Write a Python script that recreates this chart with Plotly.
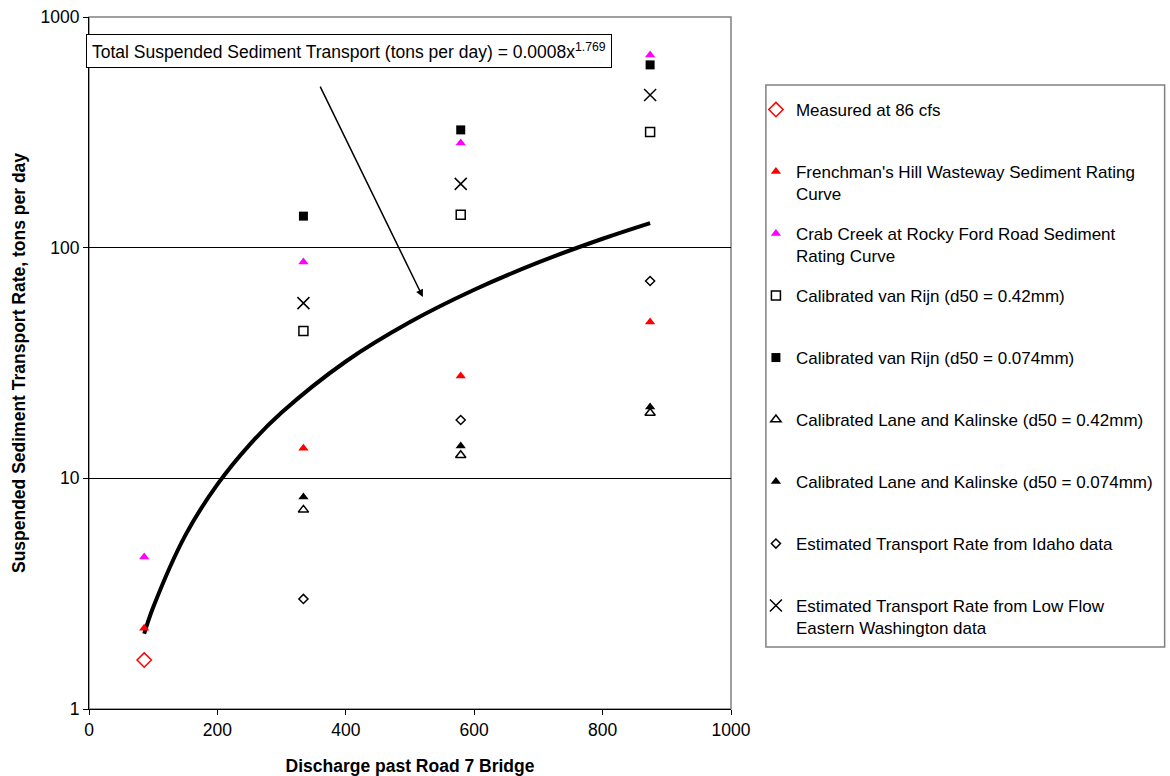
import plotly.graph_objects as go

# ---- data ----
q_measured = [86]
v_measured = [1.63]

q_main = [86, 334, 579, 874]
frenchman = [2.24, 13.5, 27.8, 47.6]
crab_creek = [4.56, 86.7, 284, 684]

q_cal = [334, 579, 874]
vr_042 = [43.5, 139, 317]
vr_0074 = [137, 324, 620]
lk_042 = [7.3, 12.6, 19.2]
lk_0074 = [8.3, 13.8, 20.4]
idaho = [3.0, 17.9, 71.7]
low_flow = [57.5, 189, 459]

# trend curve values
curve_q = [86, 100, 150, 200, 250, 300, 400, 500, 600, 700, 800, 874]
curve_v = [2.12, 2.76, 5.66, 9.41, 13.97, 19.28, 32.1, 47.6, 65.7, 86.3, 109.3, 127.8]

x_ticks = [0, 200, 400, 600, 800, 1000]
y_ticks = [1, 10, 100, 1000]

FONT = "Arial, Liberation Sans, sans-serif"
FS = 17.5
LFS = 17

fig = go.Figure()

fig.add_trace(go.Scatter(x=curve_q, y=curve_v, mode="lines", line=dict(color="black", width=4, shape="spline"),
                         showlegend=False, hoverinfo="skip"))

def add(name, x, y, symbol, color, size, lw=1.5):
    fig.add_trace(go.Scatter(
        x=x, y=y, mode="markers", name=name, legendgroup=name,
        marker=dict(symbol=symbol, color=color, size=size, line=dict(color=color, width=lw)),
    ))

add("Measured at 86 cfs<br> ", q_measured, v_measured, "diamond-open", "#FF0000", 11, 1.5)
add("Frenchman's Hill Wasteway Sediment Rating<br>Curve", q_main, frenchman, "triangle-up", "#FF0000", 9, 0)
add("Crab Creek at Rocky Ford Road Sediment<br>Rating Curve", q_main, crab_creek, "triangle-up", "#FF00FF", 9, 0)
add("Calibrated van Rijn (d50 = 0.42mm)<br> ", q_cal, vr_042, "square-open", "black", 9, 1.5)
add("Calibrated van Rijn (d50 = 0.074mm)<br> ", q_cal, vr_0074, "square", "black", 9, 0)
add("Calibrated Lane and Kalinske (d50 = 0.42mm)<br> ", q_cal, lk_042, "triangle-up-open", "black", 9, 1.5)
add("Calibrated Lane and Kalinske (d50 = 0.074mm)<br> ", q_cal, lk_0074, "triangle-up", "black", 9, 0)
add("Estimated Transport Rate from Idaho data<br> ", q_cal, idaho, "diamond-open", "black", 7, 1.5)
add("Estimated Transport Rate from Low Flow<br>Eastern Washington data", q_cal, low_flow, "x-thin-open", "black", 12, 1.5)

fig.update_layout(
    width=1170, height=776,
    margin=dict(l=89, r=437, t=17, b=67),
    paper_bgcolor="white", plot_bgcolor="white",
    font=dict(family=FONT, size=FS, color="black"),
    showlegend=True,
    legend=dict(
        x=(758 - 89) / 644, y=(709 - 92) / 692, xanchor="left", yanchor="top",
        bgcolor="rgba(0,0,0,0)", borderwidth=0, valign="top",
        tracegroupgap=14.8, itemwidth=30,
        font=dict(family=FONT, size=LFS, color="black"),
    ),
    xaxis=dict(
        range=[0, 1000], tickvals=x_ticks, ticks="outside", ticklen=5, tickcolor="black",
        showline=True, linecolor="black", linewidth=1, showgrid=False, zeroline=False,
        tickfont=dict(size=FS), automargin=False,
        title=dict(text="<b>Discharge past Road 7 Bridge</b>", font=dict(size=FS), standoff=20),
    ),
    yaxis=dict(
        type="log", range=[0, 3], tickvals=y_ticks, ticktext=[str(v) for v in y_ticks],
        ticks="outside", ticklen=5, tickcolor="black",
        showline=True, linecolor="black", linewidth=1,
        showgrid=True, gridcolor="black", gridwidth=1, zeroline=False,
        tickfont=dict(size=FS), automargin=False,
        title=dict(text="<b>Suspended Sediment Transport Rate, tons per day</b>", font=dict(size=FS), standoff=10),
    ),
    shapes=[
        dict(type="rect", xref="paper", yref="paper", x0=0, x1=1, y0=0, y1=1,
             line=dict(color="#808080", width=1.5), layer="below"),
        dict(type="rect", xref="paper", yref="paper",
             x0=(768 - 89) / 644, x1=(1168 - 89) / 644,
             y0=(709 - 647) / 692, y1=(709 - 85) / 692,
             line=dict(color="#808080", width=1.5), fillcolor="rgba(0,0,0,0)"),
    ],
    annotations=[
        dict(text="Total Suspended Sediment Transport (tons per day) = 0.0008x<sup>1.769</sup>",
             xref="paper", yref="paper", x=(86 - 89) / 644, y=(709 - 34) / 692,
             xanchor="left", yanchor="top", showarrow=False,
             bordercolor="black", borderwidth=1, borderpad=5, bgcolor="white",
             font=dict(family=FONT, size=17.5, color="black")),
        dict(x=520, y=1.786, ax=359, ay=2.705, xref="x", yref="y", axref="x", ayref="y",
             showarrow=True, arrowhead=2, arrowsize=1, arrowwidth=1.5, arrowcolor="black", text=""),
    ],
)

fig.write_html("out.html")
